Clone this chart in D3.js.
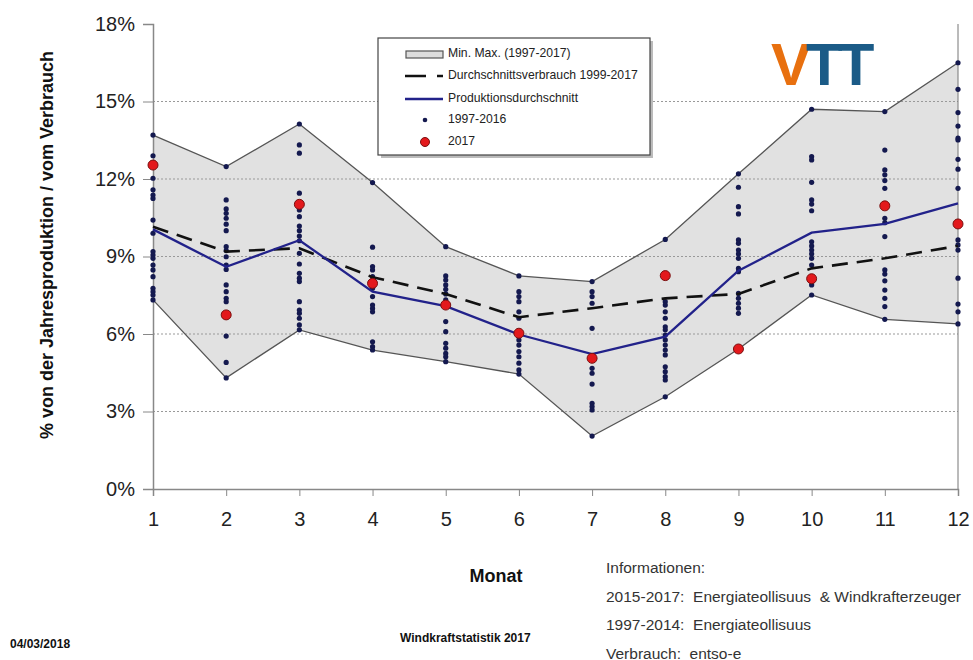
<!DOCTYPE html>
<html><head><meta charset="utf-8">
<script src="https://cdn.jsdelivr.net/npm/d3@7"></script>
<style>body{margin:0;background:#fff}svg{display:block;font-family:Arial,"Liberation Sans",sans-serif}</style>
</head><body>
<svg id="c" width="973" height="660"></svg>
<script>
const months = [1,2,3,4,5,6,7,8,9,10,11,12];
const yTicks = [0,3,6,9,12,15,18];
const maxVals = [13.7,12.48,14.13,11.86,9.38,8.25,8.03,9.66,12.2,14.7,14.61,16.5];
const minVals = [7.32,4.3,6.16,5.38,4.93,4.45,2.05,3.57,5.42,7.51,6.57,6.39];
const production = [10.05,8.6,9.63,7.64,7.08,5.98,5.22,5.9,8.45,9.92,10.26,11.06];
const consumption = [10.15,9.19,9.32,8.2,7.55,6.65,7.0,7.38,7.55,8.54,8.93,9.41];
const red2017 = [12.54,6.74,11.02,7.96,7.12,6.03,5.06,8.26,5.42,8.14,10.96,10.26];
const dots1997_2016 = [
 [13.7,12.9,12.03,11.58,11.38,11.25,10.41,9.9,9.19,9.06,8.93,8.67,8.48,8.22,7.77,7.64,7.51,7.32],
 [12.48,11.19,10.84,10.67,10.48,10.25,10.0,9.38,9.23,8.99,8.67,8.5,7.9,7.64,7.38,7.25,5.92,4.9,4.3],
 [14.13,13.32,13.0,11.45,10.8,10.54,10.18,10.0,9.79,9.61,9.12,8.71,8.35,8.16,8.03,7.25,6.93,6.8,6.61,6.35,6.16],
 [11.86,9.36,8.61,8.48,8.22,7.77,7.45,7.12,6.99,6.86,5.7,5.51,5.38],
 [9.38,8.25,8.09,7.9,7.73,7.55,7.32,6.48,6.09,5.64,5.45,5.25,5.12,4.93],
 [8.25,7.64,7.45,7.25,6.86,6.61,5.77,5.57,5.32,5.12,4.87,4.61,4.45],
 [8.03,7.64,7.45,7.19,6.22,4.67,4.48,4.06,3.32,3.19,3.06,2.05],
 [9.66,7.25,7.12,6.86,6.61,6.28,6.16,5.96,5.77,5.57,5.38,5.19,4.73,4.54,4.35,4.22,3.57],
 [12.2,11.68,10.93,10.65,9.64,9.51,9.25,9.1,8.93,8.54,8.41,7.57,7.38,7.19,7.0,6.8],
 [14.7,12.87,12.74,11.87,11.19,11.03,10.77,9.57,9.41,9.25,9.1,8.93,8.67,7.9,7.51],
 [14.61,13.12,12.35,12.16,11.94,11.64,10.48,10.31,9.77,8.48,8.32,8.06,7.7,7.38,7.06,6.57],
 [16.5,15.47,14.57,14.05,13.58,13.51,12.76,12.38,11.64,9.64,9.45,9.25,8.16,7.16,6.86,6.39]
];
const legendLabels = ["Min. Max. (1997-2017)","Durchschnittsverbrauch 1999-2017","Produktionsdurchschnitt","1997-2016","2017"];
const infoLines = ["Informationen:","2015-2017:  Energiateollisuus  & Windkrafterzeuger","1997-2014:  Energiateollisuus","Verbrauch:  entso-e"];

const svg = d3.select("#c");
const x = d3.scaleLinear().domain([1,12]).range([153,958]);
const y = d3.scaleLinear().domain([0,18]).range([489,24]);

// band
const area = d3.area().x((d,i)=>x(months[i])).y0((d,i)=>y(minVals[i])).y1(d=>y(d));
svg.append("path").datum(maxVals).attr("d",area).attr("fill","#e1e1e1");

// gridlines
svg.append("g").selectAll("line").data(yTicks.filter(t=>t>0&&t<18)).join("line")
 .attr("x1",x(1)).attr("x2",x(12)).attr("y1",d=>y(d)).attr("y2",d=>y(d))
 .attr("stroke","#999").attr("stroke-width",1).attr("stroke-dasharray","2,2");

// band outlines
const lineF = d3.line().x((d,i)=>x(months[i])).y(d=>y(d));
svg.append("path").datum(maxVals).attr("d",lineF).attr("fill","none").attr("stroke","#555").attr("stroke-width",1.3);
svg.append("path").datum(minVals).attr("d",lineF).attr("fill","none").attr("stroke","#555").attr("stroke-width",1.3);

// right border
svg.append("line").attr("x1",x(12)).attr("x2",x(12)).attr("y1",y(18)).attr("y2",y(0)).attr("stroke","#777").attr("stroke-width",1);

// axes
const yAxis = d3.axisLeft(y).tickValues(yTicks).tickFormat(d=>d+"%").tickSize(10).tickPadding(8);
const gy = svg.append("g").attr("transform",`translate(${x(1)},0)`).call(yAxis);
gy.select(".domain").attr("stroke","#888").attr("stroke-width",1.5);
gy.selectAll(".tick line").attr("stroke","#888");
gy.selectAll("text").attr("font-size",20).attr("fill","#222").attr("font-family","Arial,'Liberation Sans',sans-serif");

const xAxis = d3.axisBottom(x).tickValues(months).tickFormat(d3.format("d")).tickSize(7).tickPadding(16);
const gx = svg.append("g").attr("transform",`translate(0,${y(0)})`).call(xAxis);
gx.select(".domain").attr("stroke","#888").attr("stroke-width",1.5);
gx.selectAll(".tick line").attr("stroke","#888");
gx.selectAll("text").attr("font-size",20).attr("fill","#222").attr("font-family","Arial,'Liberation Sans',sans-serif");

// dots
const dotData = [];
dots1997_2016.forEach((arr,i)=>arr.forEach(v=>dotData.push({m:months[i],v})));
svg.append("g").selectAll("circle").data(dotData).join("circle")
 .attr("cx",d=>x(d.m)).attr("cy",d=>y(d.v)).attr("r",2.6).attr("fill","#14194f");

// lines
svg.append("path").datum(consumption).attr("d",lineF).attr("fill","none").attr("stroke","#111")
 .attr("stroke-width",2.6).attr("stroke-dasharray","16,9");
svg.append("path").datum(production).attr("d",lineF).attr("fill","none").attr("stroke","#22228a").attr("stroke-width",2.3);

// red dots
svg.append("g").selectAll("circle").data(red2017).join("circle")
 .attr("cx",(d,i)=>x(months[i])).attr("cy",d=>y(d)).attr("r",5).attr("fill","#e3191c").attr("stroke","#7a1010").attr("stroke-width",1);

// legend
const lg = svg.append("g").attr("font-size",12.2).attr("fill","#222");
lg.append("rect").attr("x",381).attr("y",41).attr("width",272).attr("height",117).attr("fill","#bbb");
lg.append("rect").attr("x",378).attr("y",38).attr("width",272).attr("height",117).attr("fill","#fff").attr("stroke","#444").attr("stroke-width",1.2);
lg.append("rect").attr("x",406).attr("y",51).attr("width",37).attr("height",7).attr("fill","#ddd").attr("stroke","#555").attr("stroke-width",1.2);
lg.append("line").attr("x1",405).attr("x2",443).attr("y1",76).attr("y2",76).attr("stroke","#111").attr("stroke-width",2.6).attr("stroke-dasharray","21,11");
lg.append("line").attr("x1",405).attr("x2",443).attr("y1",99).attr("y2",99).attr("stroke","#22228a").attr("stroke-width",2.3);
lg.append("circle").attr("cx",425).attr("cy",120).attr("r",2.3).attr("fill","#14194f");
lg.append("circle").attr("cx",425).attr("cy",142).attr("r",4.5).attr("fill","#e3191c").attr("stroke","#7a1010");
const lgY=[56,78,101,122,144];
lg.selectAll("text").data(legendLabels).join("text").attr("x",448).attr("y",(d,i)=>lgY[i]).attr("dy","0.1em").text(d=>d);

// VTT logo
const logo = svg.append("text").attr("x",771).attr("y",85).attr("font-size",60).attr("font-weight",900)
 .attr("font-family","'Liberation Sans',Arial,sans-serif").attr("letter-spacing",-5);
logo.append("tspan").attr("fill","#e8700f").text("V");
logo.append("tspan").attr("fill","#1b5b87").text("TT");

// titles
svg.append("text").attr("x",496).attr("y",582).attr("text-anchor","middle").attr("font-size",18).attr("font-weight","bold").attr("fill","#111").text("Monat");
svg.append("text").attr("transform","translate(53,245) rotate(-90)").attr("text-anchor","middle").attr("font-size",18).attr("font-weight","bold").attr("fill","#111").text("% von der Jahresproduktion / vom Verbrauch");

svg.append("text").attr("x",10).attr("y",648).attr("font-size",12).attr("font-weight","bold").attr("fill","#111").text("04/03/2018");
svg.append("text").attr("x",400).attr("y",642).attr("font-size",12).attr("font-weight","bold").attr("fill","#111").text("Windkraftstatistik 2017");
svg.append("g").selectAll("text").data(infoLines).join("text").attr("x",606).attr("y",(d,i)=>573+i*28.5)
 .attr("font-size",15.5).attr("fill","#333").attr("xml:space","preserve").style("white-space","pre").text(d=>d);
</script>
</body></html>
